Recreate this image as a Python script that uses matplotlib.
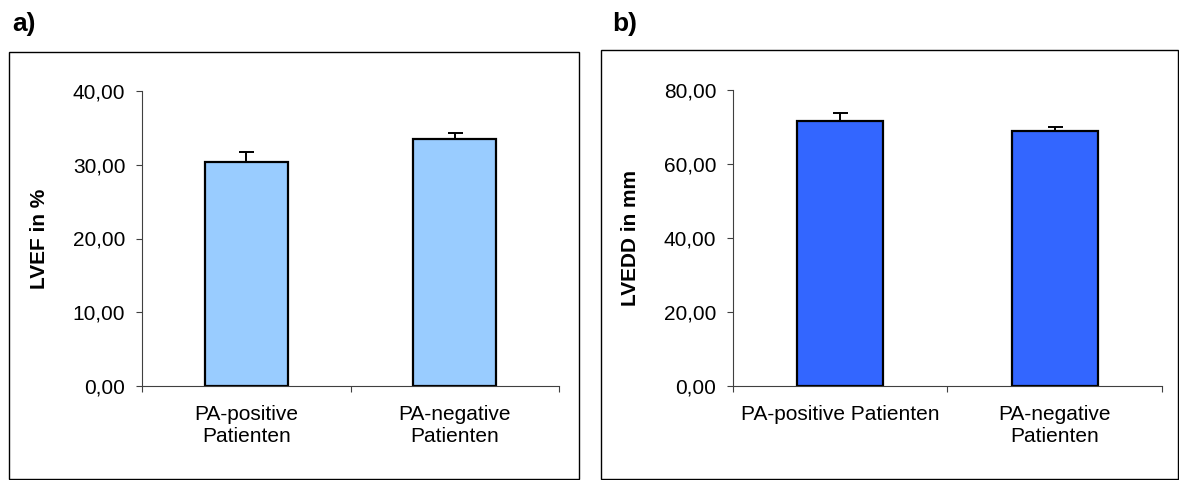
import matplotlib
matplotlib.use("Agg")
import matplotlib.pyplot as plt
from matplotlib.patches import Rectangle

plt.rcParams['font.family'] = ['Liberation Sans', 'DejaVu Sans']

# data
cats_a = ["PA-positive\nPatienten", "PA-negative\nPatienten"]
lvef = [30.4, 33.5]
lvef_err = [1.3, 0.8]

cats_b = ["PA-positive Patienten", "PA-negative\nPatienten"]
lvedd = [71.7, 68.9]
lvedd_err = [2.0, 1.2]

yticks_a = [0, 10, 20, 30, 40]
yticks_b = [0, 20, 40, 60, 80]

W, H = 1179, 480
fig = plt.figure(figsize=(W / 100, H / 100), dpi=100)

# outer frames around each panel
fig.patches.append(Rectangle((9 / W, 1 / H), 570 / W, 427 / H, transform=fig.transFigure,
                             fill=False, edgecolor='black', lw=1.0))
fig.patches.append(Rectangle((601 / W, 1 / H), 577 / W, 429 / H, transform=fig.transFigure,
                             fill=False, edgecolor='black', lw=1.0))

FS = 15


def panel(rect, cats, vals, errs, ticks, color, ylabel, label_x):
    ax = fig.add_axes(rect)
    x = list(range(len(cats)))
    ax.bar(x, vals, width=0.4, color=color, edgecolor='black', lw=1.6, zorder=2)
    ax.errorbar(x, vals, yerr=[[0] * len(errs), errs], fmt='none', ecolor='black',
                elinewidth=1.4, capsize=5.4, capthick=1.4, zorder=1)
    ax.set_xlim(-0.5, len(cats) - 0.5)
    ax.set_ylim(ticks[0], ticks[-1])
    ax.set_yticks(ticks)
    ax.set_yticklabels([f"{t},00" for t in ticks], fontsize=FS)
    ax.set_xticks(x)
    ax.set_xticklabels(cats, fontsize=FS, linespacing=1.2)
    ax.tick_params(axis='x', length=0, pad=14)
    ax.set_xticks([-0.5, 0.5, 1.5], minor=True)
    ax.tick_params(axis='x', which='minor', length=4, width=0.8, color='#404040')
    ax.tick_params(axis='y', length=4, width=0.8, color='#404040', pad=8)
    for s in ['top', 'right']:
        ax.spines[s].set_visible(False)
    for s in ['left', 'bottom']:
        ax.spines[s].set_color('#404040')
        ax.spines[s].set_linewidth(0.8)
    ax.set_ylabel(ylabel, fontsize=FS, fontweight='bold')
    ax.yaxis.set_label_coords(label_x, 0.5)
    return ax


panel([142 / W, 1 - 386 / H, 417 / W, 295 / H], cats_a, lvef, lvef_err, yticks_a,
      '#99CCFF', 'LVEF in %', -0.223)
panel([733 / W, 1 - 386 / H, 429 / W, 296 / H], cats_b, lvedd, lvedd_err, yticks_b,
      '#3366FF', 'LVEDD in mm', -0.217)

fig.text(12 / W, 1 - 24 / H, "a)", fontsize=19, fontweight='bold', va='center')
fig.text(612 / W, 1 - 24 / H, "b)", fontsize=19, fontweight='bold', va='center')

fig.savefig("out.png", dpi=100)
